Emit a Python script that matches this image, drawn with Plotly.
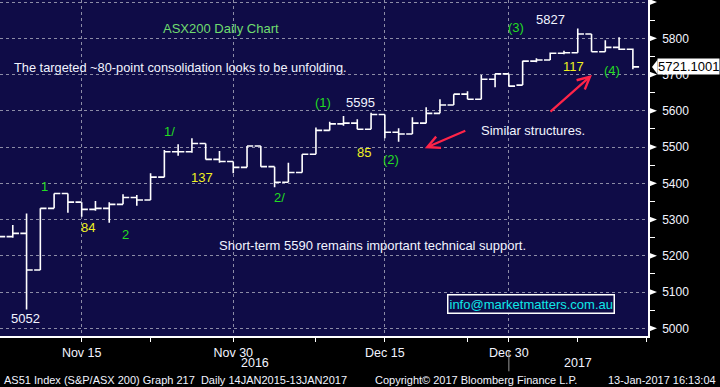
import plotly.graph_objects as go

# ---------------- data ----------------
dates = ["2016-11-07", "2016-11-08", "2016-11-09", "2016-11-10", "2016-11-11",
         "2016-11-14", "2016-11-15", "2016-11-16", "2016-11-17", "2016-11-18",
         "2016-11-21", "2016-11-22", "2016-11-23", "2016-11-24", "2016-11-25",
         "2016-11-28", "2016-11-29", "2016-11-30", "2016-12-01", "2016-12-02",
         "2016-12-05", "2016-12-06", "2016-12-07", "2016-12-08", "2016-12-09",
         "2016-12-12", "2016-12-13", "2016-12-14", "2016-12-15", "2016-12-16",
         "2016-12-19", "2016-12-20", "2016-12-21", "2016-12-22", "2016-12-23",
         "2016-12-28", "2016-12-29", "2016-12-30", "2017-01-03", "2017-01-04",
         "2017-01-05", "2017-01-06", "2017-01-09", "2017-01-10", "2017-01-11",
         "2017-01-12", "2017-01-13"]
future_dates = ["2017-01-16"]

open_ = [5240, 5253, 5262, 5161, 5331, 5372, 5348, 5328, 5331, 5342,
         5361, 5354, 5417, 5487, 5487, 5510, 5466, 5460, 5444, 5503,
         5446, 5403, 5430, 5480, 5546, 5564, 5566, 5549, 5590, 5541,
         5536, 5566, 5593, 5616, 5646, 5632, 5687, 5702, 5671, 5737,
         5740, 5759, 5760, 5812, 5763, 5775, 5770]
high = [5262, 5285, 5317, 5331, 5372, 5372, 5348, 5351, 5348, 5370,
        5368, 5428, 5492, 5508, 5524, 5510, 5489, 5460, 5503, 5503,
        5446, 5457, 5480, 5554, 5570, 5586, 5577, 5595, 5590, 5552,
        5582, 5610, 5632, 5646, 5654, 5699, 5702, 5702, 5738, 5745,
        5761, 5766, 5827, 5812, 5795, 5803, 5772]
low = [5232, 5250, 5052, 5161, 5331, 5319, 5308, 5324, 5291, 5342,
       5338, 5354, 5417, 5476, 5484, 5466, 5457, 5428, 5444, 5446,
       5389, 5403, 5430, 5480, 5546, 5559, 5549, 5549, 5524, 5515,
       5536, 5566, 5593, 5616, 5632, 5632, 5665, 5668, 5671, 5734,
       5740, 5756, 5760, 5763, 5763, 5768, 5715]
close = [5253, 5262, 5161, 5331, 5372, 5348, 5328, 5331, 5342, 5361,
         5354, 5417, 5487, 5487, 5510, 5466, 5460, 5444, 5503, 5446,
         5403, 5430, 5480, 5546, 5564, 5566, 5549, 5590, 5541, 5536,
         5566, 5593, 5616, 5646, 5632, 5687, 5702, 5668, 5737, 5740,
         5759, 5760, 5812, 5763, 5775, 5770, 5721.1001]

major_tick_dates = ["2016-11-15", "2016-11-30", "2016-12-15", "2016-12-30"]
major_tick_text = ["Nov 15", "Nov 30", "Dec 15", "Dec 30"]
minor_tick_dates = ["2016-11-22", "2016-12-08", "2016-12-23", "2017-01-09", "2017-01-16"]
year_labels = ["2016", "2017"]
y_ticks = [5000, 5100, 5200, 5300, 5400, 5500, 5600, 5700, 5800, 5900]
y_tick_text = ["5000", "5100", "5200", "5300", "5400", "5500", "5600", "5700", "5800", ""]
y_minor = [5050, 5150, 5250, 5350, 5450, 5550, 5650, 5750, 5850]
last_price = close[-1]

# wave labels: (text, date position, value, colour)
wave_labels = [
    ("1", 3.3, 5392, "green"), ("84", 6.45, 5277, "yellow"), ("2", 9.15, 5260, "green"),
    ("1/", 12.4, 5544, "green"), ("137", 14.7, 5417, "yellow"), ("2/", 20.35, 5360, "green"),
    ("(1)", 23.5, 5623, "green"), ("5595", 26.2, 5624, "white"), ("85", 26.5, 5486, "yellow"),
    ("(2)", 28.45, 5467, "green"), ("5052", 1.95, 5028, "white"), ("(3)", 37.5, 5830, "green"),
    ("5827", 40.0, 5853, "white"), ("117", 41.7, 5723, "yellow"), ("(4)", 44.5, 5712, "green"),
]

# ---------------- helpers ----------------
all_dates = dates + future_dates
pos = {d: i for i, d in enumerate(all_dates)}
xi = list(range(len(dates)))

NAVY = "#0f0c47"
GRID = "#8c8ca6"
COLS = {"green": "#22dd22", "yellow": "#f0f020", "white": "#f2f4ff"}
FONT = "Liberation Sans, Arial, sans-serif"

fig = go.Figure()
fig.add_trace(go.Ohlc(
    x=xi, open=open_, high=high, low=low, close=close,
    increasing=dict(line=dict(color="white", width=1.6)),
    decreasing=dict(line=dict(color="white", width=1.6)),
    tickwidth=0.45, showlegend=False, hoverinfo="skip"))

annotations = []
for t, xv, yv, c in wave_labels:
    annotations.append(dict(x=xv, y=yv, xref="x", yref="y", text=t, showarrow=False,
                            xanchor="center", yanchor="middle",
                            font=dict(family=FONT, size=13, color=COLS[c])))

def para(text, x, y, color, size=12, anchor="center"):
    return dict(x=x, y=y, xref="paper", yref="paper", text=text, showarrow=False,
                xanchor=anchor, yanchor="middle", font=dict(family=FONT, size=size, color=color))

annotations += [
    para("ASX200 Daily Chart", 0.341, 0.914, "#6fdc6f", 13),
    para("The targeted ~80-point consolidation looks to be unfolding.", 0.0185, 0.798, "#f2f4ff", 12.8, "left"),
    para("Similar structures.", 0.8225, 0.613, "#f2f4ff", 13),
    para("Short-term 5590 remains important technical support.", 0.5756, 0.268, "#f2f4ff", 13),
]
annotations.append(dict(x=0.8194, y=0.0952, xref="paper", yref="paper", xanchor="center", yanchor="middle",
                        text="info@marketmatters.com.au", showarrow=False,
                        font=dict(family=FONT, size=13, color="#10e8e8"),
                        bordercolor="white", borderwidth=1.5, borderpad=1, bgcolor=NAVY))

# arrows
ARROW = "#ff2448"
annotations.append(dict(x=30.9, y=5497, xref="x", yref="y", ax=42, ay=-18, text="",
                        showarrow=True, arrowhead=5, arrowsize=1.1, arrowwidth=2.2, arrowcolor=ARROW))
annotations.append(dict(x=43.03, y=5699, xref="x", yref="y", ax=-43, ay=38, text="",
                        showarrow=True, arrowhead=5, arrowsize=1.1, arrowwidth=2.2, arrowcolor=ARROW))

# year labels under the axis
annotations.append(para(year_labels[0], 255 / 648, -0.08, "#f2f4ff", 12.5))
annotations.append(para(year_labels[1], 578 / 648, -0.08, "#f2f4ff", 12.5))

# footer
annotations.append(para("AS51 Index (S&amp;P/ASX 200) Graph 217  Daily 14JAN2015-13JAN2017",
                        0.003, -0.131, "#f2f4ff", 11, "left"))
annotations.append(para("Copyright\u00a9 2017 Bloomberg Finance L.P.", 0.5756, -0.131, "#f2f4ff", 11, "left"))
annotations.append(para("13-Jan-2017 16:13:04", 1.108, -0.131, "#f2f4ff", 11, "right"))

# last price tag
annotations.append(dict(x=1, y=last_price, xref="paper", yref="y", xanchor="left", yanchor="middle",
                        xshift=9, text=f"{last_price:.4f}", showarrow=False, bgcolor="white",
                        borderpad=0, font=dict(family=FONT, size=13, color="black")))

shapes = []
# right axis triangles
for v in y_ticks:
    shapes.append(dict(type="path", xref="paper", yref="y",
                       path=f"M {1 + 1/648},{v + 8.5} L {1 + 9/648},{v} L {1 + 1/648},{v - 8.5} Z",
                       fillcolor="white", line=dict(width=0)))
# tag pointer
shapes.append(dict(type="path", xref="paper", yref="y",
                   path=f"M {1 + 4/648},{last_price} L {1 + 9.5/648},{last_price + 20} L {1 + 9.5/648},{last_price - 20} Z",
                   fillcolor="white", line=dict(width=0)))
# year separator
shapes.append(dict(type="line", xref="x", yref="paper", x0=pos["2016-12-30"], x1=pos["2016-12-30"],
                   y0=-0.045, y1=-0.105, line=dict(color="#9a9a9a", width=1)))

fig.update_layout(
    width=720, height=387, margin=dict(l=0, r=72, t=0, b=51),
    paper_bgcolor="black", plot_bgcolor=NAVY, showlegend=False,
    annotations=annotations, shapes=shapes,
    xaxis=dict(range=[(0 + 1) / 13.78, (648 + 1) / 13.78], rangeslider=dict(visible=False),
               tickmode="array", tickvals=[pos[d] for d in major_tick_dates], ticktext=major_tick_text,
               ticks="outside", ticklen=4, tickcolor="white", tickwidth=1,
               showgrid=True, gridcolor=GRID, griddash="dot", gridwidth=1,
               showline=True, linecolor="white", linewidth=1.5, zeroline=False,
               tickfont=dict(family=FONT, size=12.5, color="#f2f4ff"),
               minor=dict(tickmode="array", tickvals=[pos[d] for d in minor_tick_dates],
                          ticks="outside", ticklen=4, tickcolor="white", showgrid=False)),
    yaxis=dict(side="right", range=[4978.8, 5905.7], tickmode="array", tickvals=y_ticks,
               ticktext=y_tick_text, ticks="outside", ticklen=10, tickcolor="rgba(0,0,0,0)",
               showgrid=True, gridcolor=GRID, griddash="dot", gridwidth=1,
               showline=True, linecolor="white", linewidth=1.5, zeroline=False,
               tickfont=dict(family=FONT, size=12, color="#f2f4ff"),
               minor=dict(tickmode="array", tickvals=y_minor, ticks="outside", ticklen=5,
                          tickcolor="white", showgrid=False)),
)

fig.write_html("out.html", config={"displayModeBar": False},
               post_script="document.body.style.margin='0';document.body.style.overflow='hidden';")
